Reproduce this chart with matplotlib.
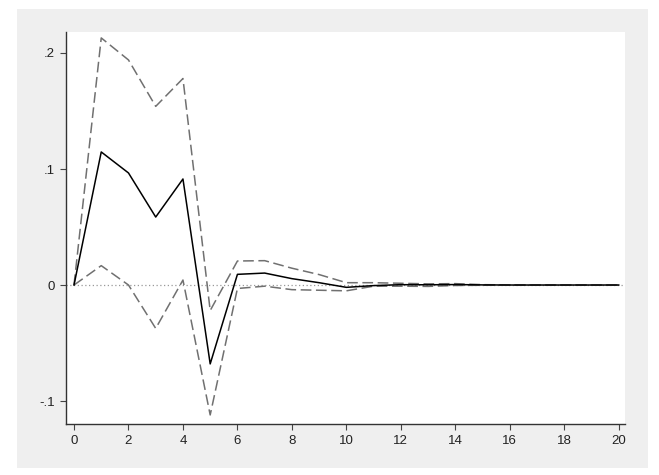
import matplotlib
matplotlib.use("Agg")
import matplotlib.pyplot as plt
from matplotlib.patches import Rectangle
from matplotlib.ticker import FixedLocator

# Impulse response with confidence bands
steps = list(range(21))
irf = [0, 0.1147, 0.0966, 0.0586, 0.0914, -0.068, 0.0092, 0.0103, 0.0055, 0.002,
       -0.002, -0.0005, 0.0003, 0.0002, 0.0004, 0.0001, 0, 0, 0, 0, 0]
upper = [0, 0.213, 0.194, 0.154, 0.178, -0.022, 0.0207, 0.021, 0.0145, 0.009,
         0.002, 0.002, 0.0015, 0.001, 0.0012, 0.0003, 0.0001, 0, 0, 0, 0]
lower = [0, 0.0167, 0.0, -0.0374, 0.0043, -0.112, -0.003, -0.001, -0.004, -0.0045,
         -0.005, -0.001, -0.001, -0.0012, -0.0004, -0.0002, 0, 0, 0, 0, 0]

y_ticks = [-0.1, 0, 0.1, 0.2]
y_labels = ["-.1", "0", ".1", ".2"]
x_ticks = list(range(0, 21, 2))

plt.rcParams['font.family'] = ['Liberation Sans', 'DejaVu Sans']

fig = plt.figure(figsize=(6.59, 4.75), dpi=100)
fig.patch.set_facecolor("white")
fig.patches.append(Rectangle((17 / 659, 7 / 475), 631 / 659, 459 / 475,
                             transform=fig.transFigure, facecolor="#efefef",
                             edgecolor="none", zorder=-10))

ax = fig.add_axes([66 / 659, 1 - 424 / 475, 559 / 659, 392 / 475])
ax.set_facecolor("white")
ax.set_zorder(1)

ax.axhline(0, color="#999999", linestyle=(0, (1, 2)), linewidth=0.9, zorder=1)
ax.plot(steps, upper, color="#707070", linestyle=(0, (7, 3)), linewidth=1.1, zorder=2)
ax.plot(steps, lower, color="#707070", linestyle=(0, (7, 3)), linewidth=1.1, zorder=2)
ax.plot(steps, irf, color="black", linewidth=1.1, zorder=3)

ax.set_xlim(-0.294, 20.23)
ax.set_ylim(-0.1198, 0.2181)
ax.yaxis.set_major_locator(FixedLocator(y_ticks))
ax.set_yticklabels(y_labels)
ax.set_xticks(x_ticks)

for side in ["top", "right"]:
    ax.spines[side].set_visible(False)
for side in ["left", "bottom"]:
    ax.spines[side].set_color("#333333")
    ax.spines[side].set_linewidth(1.0)

ax.tick_params(direction="out", length=4, width=0.8, color="#444444",
               labelsize=9.5, labelcolor="#222222", pad=4)

fig.savefig("out.png", dpi=100)
